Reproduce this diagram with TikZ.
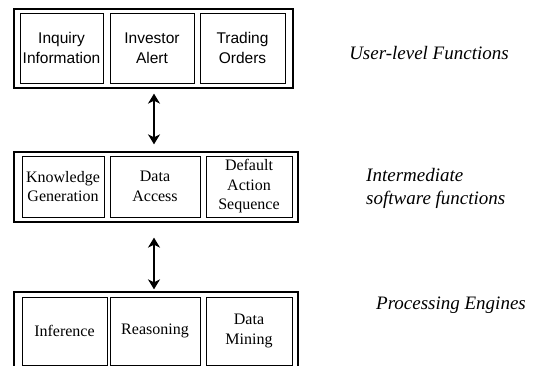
\documentclass[tikz,border=0pt]{standalone}
\usepackage{fontspec}
\setmainfont{Liberation Serif}
\newfontfamily\arialf{Liberation Sans}
\usetikzlibrary{arrows.meta}
\begin{document}
\begin{tikzpicture}[x=1pt,y=-1pt,
  outerbox/.style={draw,line width=1.3pt,minimum width=#1,inner sep=0pt},
  innerbox/.style={draw,line width=0.9pt,minimum width=#1,inner sep=0pt,align=center},
  sanstext/.style={font=\arialf\fontsize{15.5}{20}\selectfont},
  seriftext/.style={font=\fontsize{16}{19.5}\selectfont},
  levellabel/.style={font=\itshape\fontsize{19}{23}\selectfont,inner sep=0pt},
  arr/.style={{Stealth[length=10pt,width=12pt,inset=3pt]}-{Stealth[length=10pt,width=12pt,inset=3pt]},line width=2.6pt}]
\clip (0,0) rectangle (543,366);
% outer boxes
\node[outerbox=279pt,minimum height=79pt] (top) at (153.5,48.5) {};
\node[outerbox=284pt,minimum height=70pt] (mid) at (156,187) {};
\node[outerbox=284pt,minimum height=86pt] (bot) at (156,335) {};
% top row
\node[innerbox=83pt,minimum height=70pt,sanstext] (inq) at (61.5,48) {Inquiry\\Information};
\node[innerbox=84pt,minimum height=70pt,sanstext] (inv) at (152,48) {Investor\\Alert};
\node[innerbox=85pt,minimum height=70pt,sanstext] (trd) at (242.5,48) {Trading\\Orders};
% middle row
\node[innerbox=82pt,minimum height=61pt,seriftext] (kg) at (63,186.5) {Knowledge\\Generation};
\node[innerbox=90pt,minimum height=61pt,seriftext] (da) at (155,186.5) {Data\\Access};
\node[innerbox=86pt,minimum height=61pt,seriftext] (das) at (249,186.5) {Default\\Action\\Sequence};
% bottom row
\node[innerbox=85pt,minimum height=68pt,seriftext] (inf) at (64.5,331) {Inference};
\node[innerbox=90pt,minimum height=68pt,seriftext] (rea) at (155,331) {Reasoning};
\node[innerbox=86pt,minimum height=68pt,seriftext] (dm) at (249,331) {Data\\Mining};
% arrows
\coordinate (ax) at (154,0);
\draw[arr,shorten <=5pt,shorten >=7pt] (top.south -| ax) -- (mid.north -| ax);
\draw[arr,shorten <=15pt,shorten >=2pt] (mid.south -| ax) -- (bot.north -| ax);
% labels
\node[levellabel] (l1) at (429,53) {User-level Functions};
\node[levellabel,anchor=west,align=left] (l2) at (366,188.5) {Intermediate\\software functions};
\node[levellabel] (l3) at (451,305) {Processing Engines};
\end{tikzpicture}
\end{document}
